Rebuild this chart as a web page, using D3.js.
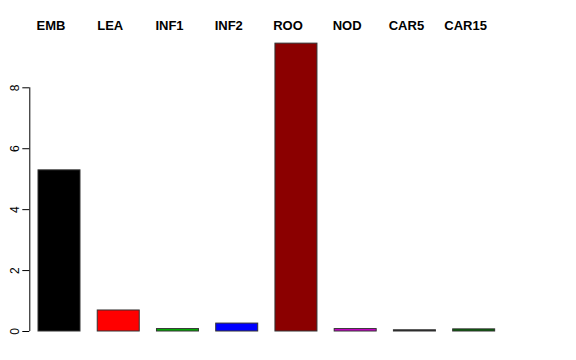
<!DOCTYPE html>
<html><head><meta charset="utf-8">
<script src="https://cdn.jsdelivr.net/npm/d3@7"></script>
<style>body{margin:0;background:#fff}</style>
</head><body>
<svg id="c" width="576" height="360"></svg>
<script>
const categories = ["EMB","LEA","INF1","INF2","ROO","NOD","CAR5","CAR15"];
const values = [5.29, 0.69, 0.08, 0.26, 9.45, 0.08, 0.04, 0.07];
const colors = ["#000000","#FF0000","#00B000","#0000FF","#8B0000","#CC00CC","#1a1a1a","#006400"];
const yTicks = [0,2,4,6,8];

const svg = d3.select("#c");
const x = d3.scaleBand().domain(categories).range([20.76, 511.9]).padding(0.291);
const y = d3.scaleLinear().domain([0,8]).range([331, 87.3]);

svg.selectAll("rect.bar").data(categories).join("rect")
  .attr("class","bar")
  .attr("x", d => x(d))
  .attr("width", x.bandwidth())
  .attr("y", (d,i) => y(values[i]))
  .attr("height", (d,i) => y(0) - y(values[i]))
  .attr("fill", (d,i) => colors[i])
  .attr("stroke", "#333")
  .attr("stroke-width", 1);

const ax = svg.append("g").attr("transform","translate(29.3,0)")
  .call(d3.axisLeft(y).tickValues(yTicks).tickSize(7).tickSizeOuter(0).tickFormat(d3.format("d")));
ax.select(".domain").attr("stroke","#000").attr("d", `M0.5,${y(0)}V${y(8)}`);
ax.selectAll(".tick line").attr("stroke","#000");
ax.selectAll(".tick text")
  .attr("font-family","Liberation Sans, Arial, sans-serif")
  .attr("font-size", 12)
  .attr("fill","#000")
  .attr("text-anchor","middle")
  .attr("x", 0).attr("dy", 0)
  .attr("transform","translate(-13.5,0) rotate(-90)")
  .attr("y", 0)
  .attr("dominant-baseline","middle");

svg.selectAll("text.lab").data(categories).join("text")
  .attr("class","lab")
  .attr("x", d => x(d) + x.bandwidth()/2 - 8)
  .attr("y", 30)
  .attr("text-anchor","middle")
  .attr("font-family","Liberation Sans, Arial, sans-serif")
  .attr("font-weight","bold")
  .attr("font-size", 13)
  .text(d => d);
</script>
</body></html>
